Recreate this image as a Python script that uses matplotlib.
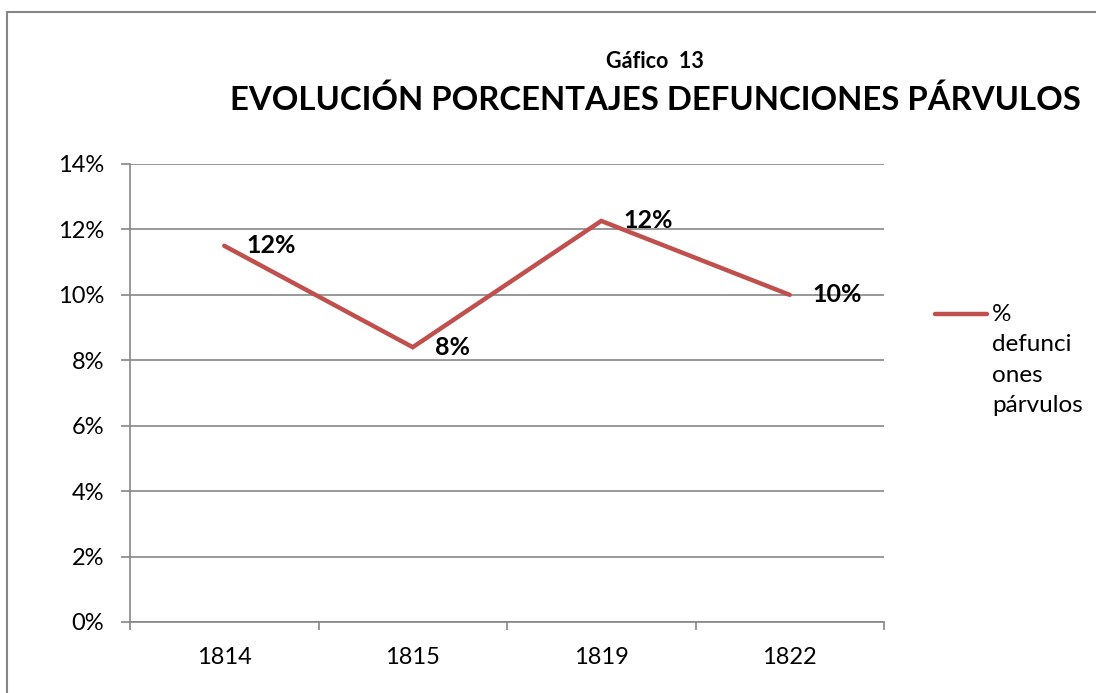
import matplotlib
matplotlib.use("Agg")
import matplotlib.pyplot as plt
from matplotlib.patches import Rectangle
from matplotlib.lines import Line2D
from matplotlib.ticker import FixedLocator, PercentFormatter

plt.rcParams['font.family'] = ['Lato', 'DejaVu Sans']

years = ['1814', '1815', '1819', '1822']
values = [0.115, 0.084, 0.1226, 0.100]
series_name = '%\ndefunci\nones\npárvulos'
title_small = 'Gáfico  13'
title_main = 'EVOLUCIÓN PORCENTAJES DEFUNCIONES PÁRVULOS'
yticks = [0, 0.02, 0.04, 0.06, 0.08, 0.10, 0.12, 0.14]

W, H = 1096, 693
fig = plt.figure(figsize=(W / 100, H / 100), dpi=100)
fig.patch.set_facecolor('white')

# outer chart border (runs off the right and bottom edges as in the reference)
fig.patches.append(Rectangle((7 / W, -10 / H), (1120 - 7) / W, (681 + 10) / H,
                             transform=fig.transFigure, fill=False,
                             edgecolor='#868686', linewidth=1.5))

ax = fig.add_axes([130 / W, 1 - 622 / H, (884 - 130) / W, (622 - 164) / H])
grid_c = '#868686'
line_c = '#C0504D'
x = list(range(len(years)))
line, = ax.plot(x, values, color=line_c, linewidth=3.2,
                solid_capstyle='round', solid_joinstyle='miter', zorder=3)

ax.set_xlim(-0.5, len(years) - 0.5)
ax.set_ylim(0, 0.14)
ax.yaxis.set_major_locator(FixedLocator(yticks))
ax.yaxis.set_major_formatter(PercentFormatter(1.0, decimals=0))
ax.grid(axis='y', color=grid_c, linewidth=1.2)
ax.set_axisbelow(True)

ax.set_xticks(x)
ax.set_xticklabels(years)
ax.set_xticks([i - 0.5 for i in range(len(years) + 1)], minor=True)
ax.tick_params(axis='x', which='major', length=0, pad=18, labelsize=17)
ax.tick_params(axis='x', which='minor', length=6, width=1.2, color=grid_c, direction='out')
ax.tick_params(axis='y', length=6.5, width=1.2, color=grid_c, direction='out', labelsize=17, pad=12)

for s in ['top', 'right']:
    ax.spines[s].set_visible(False)
for s in ['left', 'bottom']:
    ax.spines[s].set_color(grid_c)
    ax.spines[s].set_linewidth(1.2)

for xi, v in zip(x, values):
    ax.annotate(f"{v:.0%}", (xi, v), xytext=(16, 0), textcoords='offset points',
                ha='left', va='center', fontsize=18, fontweight='bold', zorder=4)

fig.text(655 / W, 1 - 61 / H, title_small, ha='center', va='center',
         fontsize=15.5, fontweight='bold')
fig.text(655 / W, 1 - 100 / H, title_main, ha='center', va='center',
         fontsize=23.7, fontweight='bold')

# legend (manual, Excel style: key aligned with first text line)
fig.add_artist(Line2D([935 / W, 987 / W], [1 - 314 / H, 1 - 314 / H],
                      transform=fig.transFigure, color=line_c, linewidth=3.2,
                      solid_capstyle='round'))
fig.text(992 / W, 1 - 304 / H, series_name, ha='left', va='top',
         fontsize=17.5, linespacing=1.55)

fig.savefig('out.png', dpi=100)
